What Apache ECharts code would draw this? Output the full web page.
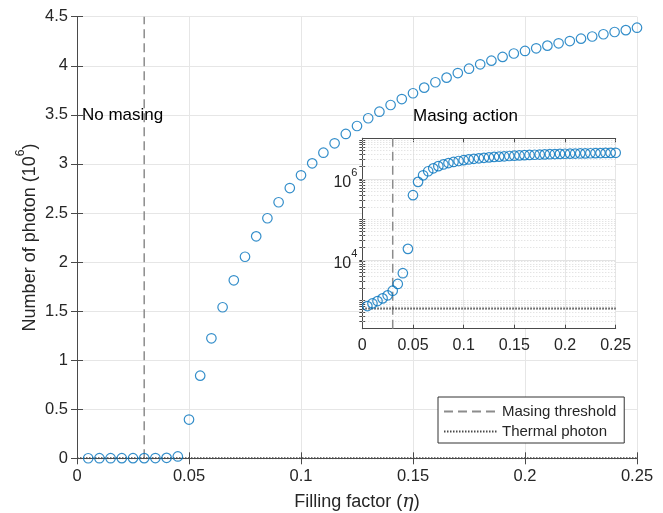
<!DOCTYPE html>
<html>
<head>
<meta charset="utf-8">
<script src="https://cdn.jsdelivr.net/npm/echarts@6/dist/echarts.min.js"></script>
<style>html,body{margin:0;padding:0;background:#fff}#c{width:663px;height:513px}</style>
</head>
<body>
<div id="c"></div>
<script>
// ---- data ----
var eta = [0.005,0.01,0.015,0.02,0.025,0.03,0.035,0.04,0.045,0.05,
           0.055,0.06,0.065,0.07,0.075,0.08,0.085,0.09,0.095,0.1,
           0.105,0.11,0.115,0.12,0.125,0.13,0.135,0.14,0.145,0.15,
           0.155,0.16,0.165,0.17,0.175,0.18,0.185,0.19,0.195,0.2,
           0.205,0.21,0.215,0.22,0.225,0.23,0.235,0.24,0.245,0.25];
var photons = [723,841,961,1122,1333,1733,2543,4680,18700,395000,
               842000,1223000,1539000,1814000,2054000,2262000,2446000,2609000,2754000,2884000,
               3006000,3114000,3210000,3305000,3386000,3465000,3532000,3600000,3661000,3720000,
               3777000,3832000,3879000,3926000,3970000,4015000,4052000,4090000,4125000,4151000,
               4178000,4205000,4229000,4252000,4276000,4298000,4321000,4344000,4363000,4388000];
var threshold = 0.03;      // masing threshold (filling factor)
var thermal = 630;         // thermal photon number
var xTicksMain = [0,0.05,0.1,0.15,0.2,0.25];
var yTicksMain = [0,0.5,1,1.5,2,2.5,3,3.5,4,4.5];
var insetYLabels = [1e4,1e6];
var insetYRange = [200,1e7];

// ---- styles ----
var FONT = 'Liberation Sans, Arial, Helvetica, sans-serif';
var AX = '#4a4a4a', TX = '#262626', GRID = '#e6e6e6';
var BLUE = '#0072BD';
var NOFILL = 'rgba(0,0,0,0)';

var mainSeries = eta.map(function(x,i){ return [x, photons[i]/1e6]; });
var insetSeries = eta.map(function(x,i){ return [x, photons[i]]; });

// minor log grid values for inset
var minorVals = [];
for (var e = 2; e <= 7; e++) for (var k = 1; k <= 9; k++) {
  var v = k * Math.pow(10, e);
  if (v > insetYRange[0] && v < insetYRange[1] && insetYLabels.indexOf(v) < 0) minorVals.push(v);
}

function baseAxis(extra){
  var o = {
    axisLine:{show:true,lineStyle:{color:AX,width:1}},
    axisTick:{show:true,inside:true,length:6,lineStyle:{color:AX,width:1}},
    axisLabel:{show:false},
    splitLine:{show:false},
    nameMoveOverlap:false
  };
  for (var k in extra) o[k] = extra[k];
  return o;
}

var chart = echarts.init(document.getElementById('c'), null, {renderer:'canvas'});
var option = {
  backgroundColor:'#fff',
  animation:false,
  textStyle:{fontFamily:FONT},
  grid:[
    {left:77, top:16.7, width:560, height:441.6, show:false, z:0, outerBoundsMode:'none', containLabel:false},
    {left:362.3, top:138.3, width:253.4, height:190.4, show:true, backgroundColor:'#fff', borderWidth:0, z:3, outerBoundsMode:'none', containLabel:false}
  ],
  xAxis:[
    baseAxis({type:'value', gridIndex:0, min:xTicksMain[0], max:xTicksMain[xTicksMain.length-1], interval:0.05, position:'bottom',
      axisLabel:{show:true, color:TX, fontSize:16.5, margin:10, fontFamily:FONT},
      splitLine:{show:true, lineStyle:{color:GRID, width:1}},
      name:'{a|Filling factor (}{i|η}{a|)}', nameLocation:'middle', nameGap:34,
      nameTextStyle:{rich:{a:{fontSize:18,color:TX,fontFamily:FONT}, i:{fontSize:19,color:TX,fontStyle:'italic',fontFamily:'DejaVu Serif, Liberation Serif, serif'}}}
    }),
    baseAxis({type:'value', gridIndex:0, min:0, max:0.25, interval:0.05, position:'top'}),
    baseAxis({type:'value', gridIndex:1, min:0, max:0.25, interval:0.05, position:'bottom', z:4,
      axisTick:{show:true,inside:true,length:4,lineStyle:{color:AX,width:1}},
      axisLabel:{show:true, color:TX, fontSize:16, margin:9, fontFamily:FONT},
      splitLine:{show:true, lineStyle:{color:GRID, width:1}}
    }),
    baseAxis({type:'value', gridIndex:1, min:0, max:0.25, interval:0.05, position:'top', z:4,
      axisTick:{show:true,inside:true,length:4,lineStyle:{color:AX,width:1}}})
  ],
  yAxis:[
    baseAxis({type:'value', gridIndex:0, min:yTicksMain[0], max:yTicksMain[yTicksMain.length-1], interval:0.5, position:'left',
      axisLabel:{show:true, color:TX, fontSize:16.5, margin:9, fontFamily:FONT},
      splitLine:{show:true, lineStyle:{color:GRID, width:1}},
      name:'{a|Number of photon (10}{s|6}{a|)}', nameLocation:'middle', nameGap:38,
      nameTextStyle:{rich:{a:{fontSize:18,color:TX,fontFamily:FONT,padding:[6,0,0,0],verticalAlign:'bottom'}, s:{fontSize:12,color:TX,fontFamily:FONT,verticalAlign:'top'}}}
    }),
    baseAxis({type:'value', gridIndex:0, min:0, max:4.5, interval:0.5, position:'right'}),
    baseAxis({type:'log', gridIndex:1, min:insetYRange[0], max:insetYRange[1], logBase:10, position:'left', z:4,
      axisTick:{show:true,inside:true,length:3,lineStyle:{color:AX,width:1}, customValues:minorVals.concat(insetYLabels)},
      axisLabel:{show:true, margin:5, customValues:insetYLabels,
        formatter:function(v){ return '{b|10}{s|' + Math.round(Math.log10(v)) + '}'; },
        rich:{b:{fontSize:16,color:TX,fontFamily:FONT,padding:[7,0,0,0],verticalAlign:'bottom'}, s:{fontSize:11,color:TX,fontFamily:FONT,verticalAlign:'top'}}}
    }),
    baseAxis({type:'log', gridIndex:1, min:insetYRange[0], max:insetYRange[1], logBase:10, position:'right', z:4,
      axisTick:{show:true,inside:true,length:3,lineStyle:{color:AX,width:1}, customValues:minorVals.concat(insetYLabels)},
      axisLabel:{show:false, customValues:insetYLabels}})
  ],
  legend:{
    data:['Masing threshold','Thermal photon'],
    orient:'vertical', left:438, top:397,
    padding:[7,8,4,5], itemGap:5, itemWidth:53, itemHeight:15,
    backgroundColor:'#fff', borderColor:'#333', borderWidth:1, borderRadius:0,
    itemStyle:{color:NOFILL, borderWidth:0, opacity:0},
    textStyle:{fontSize:15, color:TX, fontFamily:FONT},
    z:10
  },
  series:[
    // main plot
    {type:'scatter', xAxisIndex:0, yAxisIndex:0, data:mainSeries, symbol:'circle', symbolSize:9.5,
      itemStyle:{color:NOFILL, borderColor:BLUE, borderWidth:1.2}, z:2},
    {name:'Masing threshold', type:'line', xAxisIndex:0, yAxisIndex:0, symbol:'none',
      data:[[threshold, yTicksMain[0]],[threshold, yTicksMain[yTicksMain.length-1]]],
      itemStyle:{color:NOFILL},
      lineStyle:{color:'#8c8c8c', width:1.5, type:[9,5]}, z:1},
    {name:'Thermal photon', type:'line', xAxisIndex:0, yAxisIndex:0, symbol:'none',
      data:[[xTicksMain[0], thermal/1e6],[xTicksMain[xTicksMain.length-1], thermal/1e6]],
      itemStyle:{color:NOFILL},
      lineStyle:{color:'#4a4a4a', width:2, type:[1.5,1.5]}, z:2},
    // inset grid lines
    {type:'line', xAxisIndex:2, yAxisIndex:2, data:[], z:4, silent:true,
      markLine:{symbol:'none', silent:true, label:{show:false}, animation:false,
        data: minorVals.map(function(v){ return {yAxis:v, lineStyle:{color:'#d9d9d9', width:1, type:[1,2]}}; })
          .concat(insetYLabels.map(function(v){ return {yAxis:v, lineStyle:{color:'#e3e3e3', width:1, type:'solid'}}; }))
      }},
    // inset
    {name:'Masing threshold', type:'line', xAxisIndex:2, yAxisIndex:2, symbol:'none',
      data:[[threshold, insetYRange[0]],[threshold, insetYRange[1]]],
      itemStyle:{color:NOFILL},
      lineStyle:{color:'#8c8c8c', width:1.5, type:[9,5]}, z:5},
    {name:'Thermal photon', type:'line', xAxisIndex:2, yAxisIndex:2, symbol:'none',
      data:[[0, thermal],[0.25, thermal]],
      itemStyle:{color:NOFILL},
      lineStyle:{color:'#4a4a4a', width:2, type:[1.5,1.5]}, z:5},
    {type:'scatter', xAxisIndex:2, yAxisIndex:2, data:insetSeries, symbol:'circle', symbolSize:9.5,
      itemStyle:{color:NOFILL, borderColor:BLUE, borderWidth:1.2}, z:6}
  ],
  graphic:[
    {type:'text', x:82, y:115.5, z:20, style:{text:'No masing', fontSize:17, fontFamily:FONT, fill:'#000', verticalAlign:'middle'}},
    {type:'text', x:413, y:116.5, z:20, style:{text:'Masing action', fontSize:17, fontFamily:FONT, fill:'#000', verticalAlign:'middle'}}
  ]
};
chart.setOption(option);
</script>
</body>
</html>
